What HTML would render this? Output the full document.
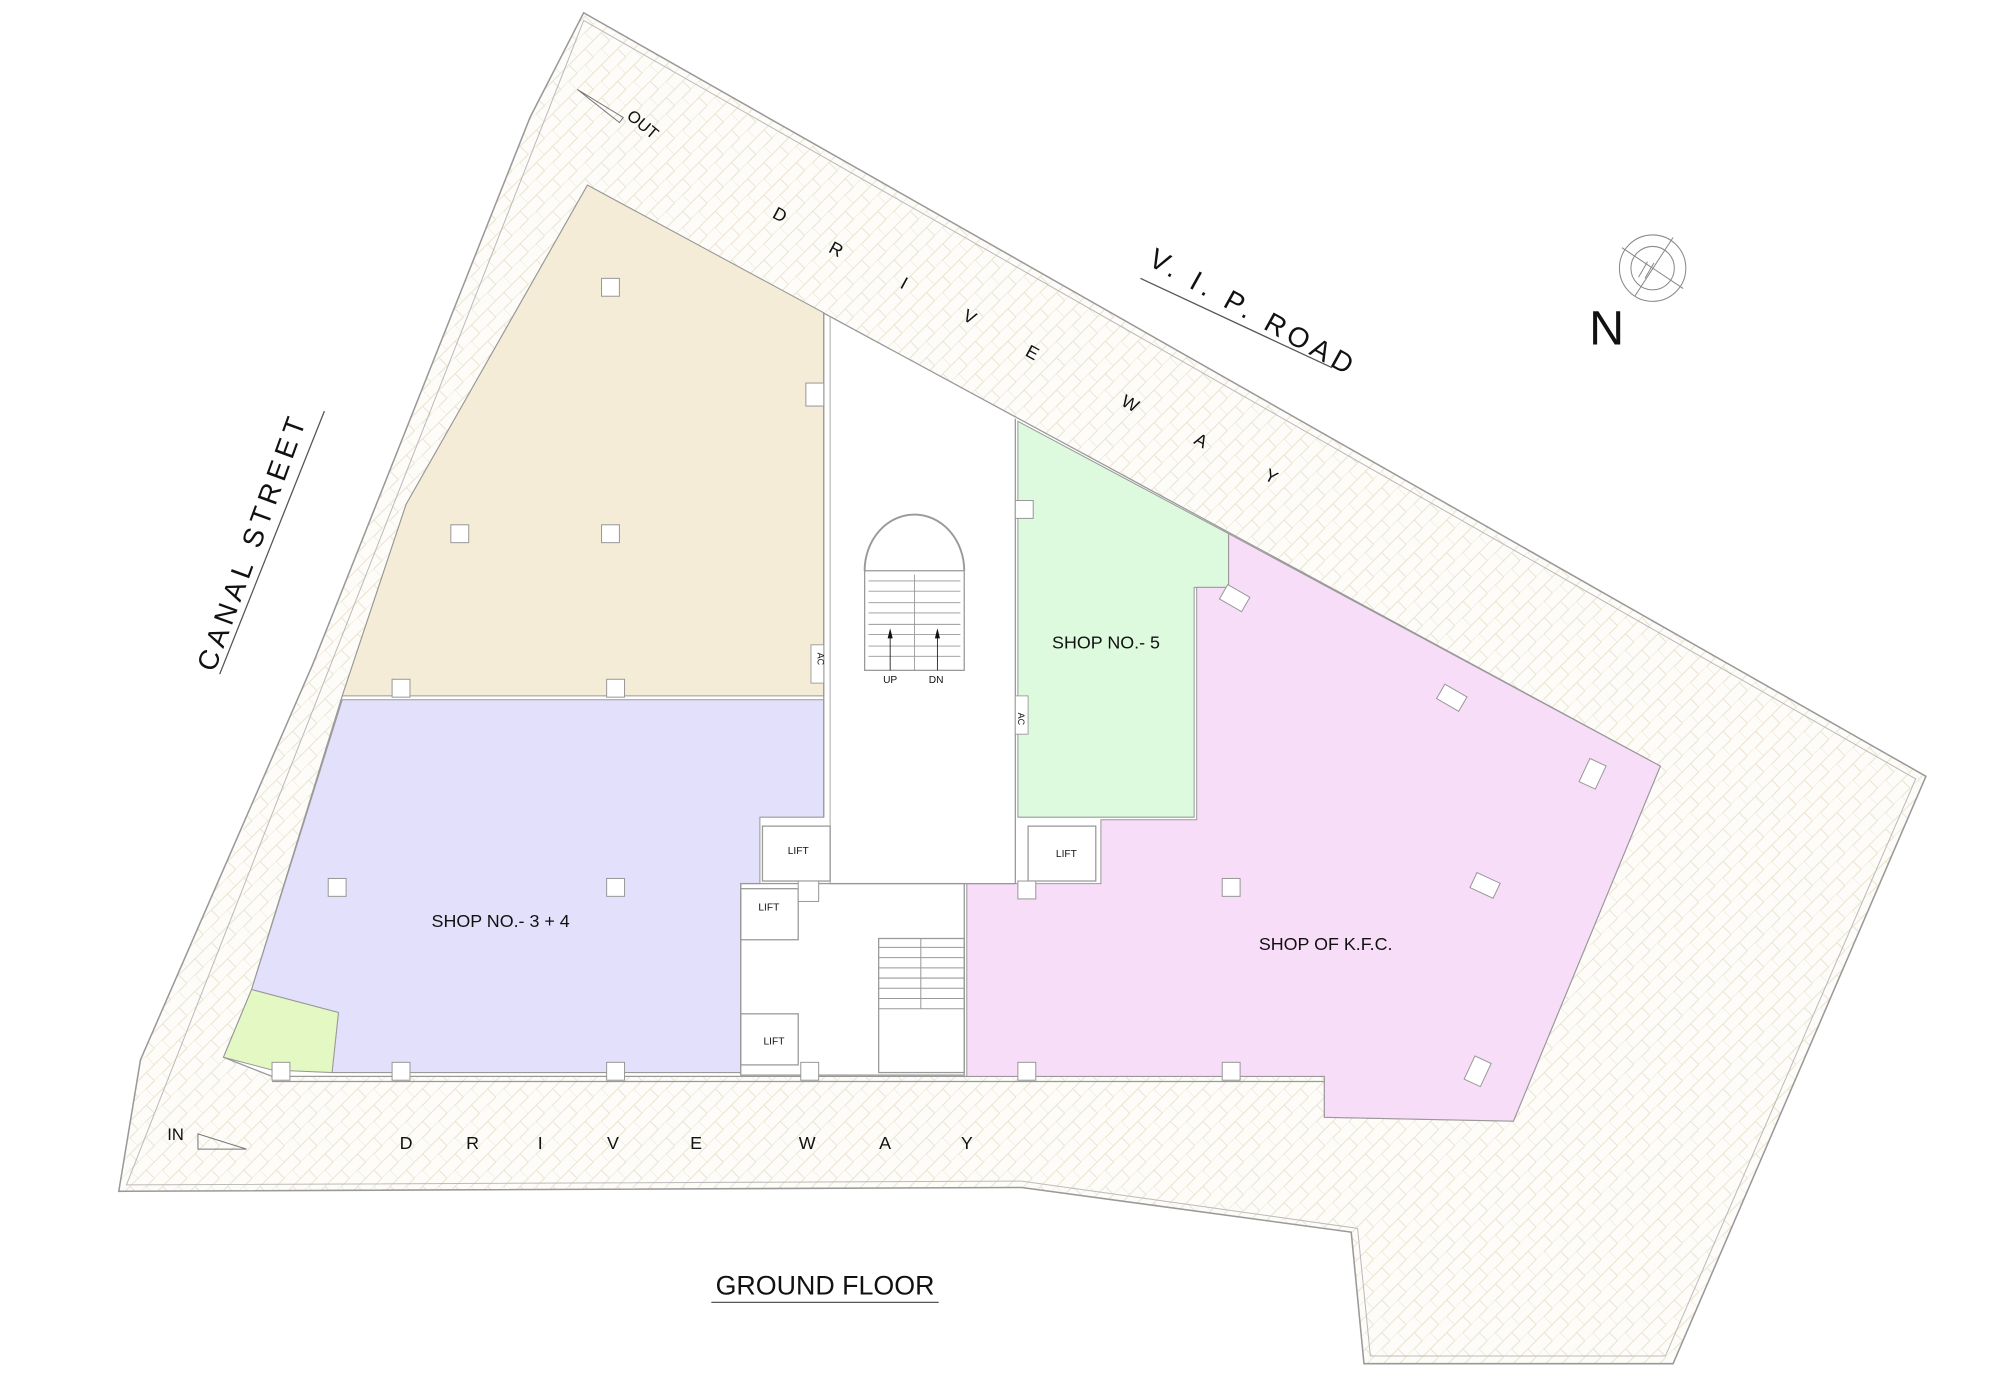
<!DOCTYPE html>
<html><head><meta charset="utf-8"><style>
html,body{margin:0;padding:0;background:#fff;width:2000px;height:1379px;overflow:hidden}
svg{display:block}
text{font-family:"Liberation Sans",sans-serif;fill:#111}
</style></head><body>
<svg width="2000" height="1379" viewBox="0 0 1566 1080" preserveAspectRatio="none" xmlns="http://www.w3.org/2000/svg">
<defs>
<pattern id="hb" width="18" height="18" patternUnits="userSpaceOnUse" patternTransform="rotate(45)">
<rect width="18" height="18" fill="#fdfcf9"/>
<path d="M0,0 H9 V9 H18 V18 M0,9 V18 M9,9 V18 M18,0 V9" stroke="#ebe4d0" stroke-width="0.8" fill="none"/>
</pattern>
</defs>
<rect width="1566" height="1080" fill="#fff"/>
<!-- site -->
<polygon points="457,10 1508,608 1310,1068 1068,1068 1058,965 800,930 93,933 110,830 245,520 415,92" fill="url(#hb)" stroke="#999" stroke-width="1.2"/>
<polygon points="457,16 1500,610 1304,1062 1073,1062 1063,962 800,925 99,928" fill="none" stroke="#bbb" stroke-width="0.8"/>
<!-- building base white -->
<polygon points="460,145 1300,600 1185,878 1037,875 1037,843 213,843 175,828 197,775 268,545 318,395" fill="#fff" stroke="#999" stroke-width="1"/>
<!-- tan -->
<polygon points="460,145 645,245 645,545 268,545 318,395" fill="#f5ecd8" stroke="#999" stroke-width="0.8"/>
<!-- purple -->
<polygon points="268,548 645,548 645,640 595,640 595,692 580,692 580,840 260,840 265,793 197,775" fill="#e3e0fb" stroke="#999" stroke-width="0.8"/>
<!-- small green -->
<polygon points="197,775 265,793 260,840 213,838 175,828" fill="#e4f8c4" stroke="#999" stroke-width="0.8"/>
<!-- shop 5 -->
<polygon points="797,330 962,418 962,460 935,460 935,640 797,640" fill="#ddfadf" stroke="#999" stroke-width="0.8"/>
<!-- KFC -->
<polygon points="757,692 862,692 862,642 937,642 937,460 962,460 962,418 1300,600 1185,878 1037,875 1037,843 757,843" fill="#f8ddf8" stroke="#999" stroke-width="0.8"/>
<!-- central walls -->
<line x1="645" y1="245" x2="645" y2="640" stroke="#999"/>
<line x1="650" y1="248" x2="650" y2="692" stroke="#bbb"/>
<line x1="795" y1="328" x2="795" y2="692" stroke="#999"/>
<line x1="650" y1="692" x2="795" y2="692" stroke="#999"/>
<line x1="213" y1="847" x2="1037" y2="847" stroke="#999"/>
<!-- lifts -->
<g fill="#fff" stroke="#999" stroke-width="1">
<rect x="597" y="647" width="53" height="43"/>
<rect x="805" y="647" width="53" height="43"/>
<rect x="580" y="696" width="45" height="40"/>
<rect x="580" y="794" width="45" height="40"/>
<rect x="580" y="692" width="175" height="150" fill="none"/>
<rect x="688" y="735" width="67" height="105" fill="none"/>
</g>
<g stroke="#999" stroke-width="0.8">
<line x1="688" y1="742" x2="755" y2="742"/><line x1="688" y1="750" x2="755" y2="750"/><line x1="688" y1="758" x2="755" y2="758"/><line x1="688" y1="766" x2="755" y2="766"/><line x1="688" y1="774" x2="755" y2="774"/><line x1="688" y1="782" x2="755" y2="782"/><line x1="688" y1="790" x2="755" y2="790"/><line x1="721" y1="735" x2="721" y2="790"/>
</g>
<g font-size="8" text-anchor="middle">
<text x="625" y="669">LIFT</text><text x="835" y="671">LIFT</text><text x="602" y="713">LIFT</text><text x="606" y="818">LIFT</text>
</g>
<!-- stair with arch -->
<path d="M677,447 A39,44 0 0 1 755,447" fill="none" stroke="#999" stroke-width="1.5"/>
<rect x="677" y="447" width="78" height="78" fill="#fff" stroke="#999"/>
<g stroke="#999" stroke-width="0.7">
<line x1="680" y1="455" x2="752" y2="455"/><line x1="680" y1="463" x2="752" y2="463"/><line x1="680" y1="472" x2="752" y2="472"/><line x1="680" y1="480" x2="752" y2="480"/><line x1="680" y1="489" x2="752" y2="489"/><line x1="680" y1="497" x2="752" y2="497"/><line x1="680" y1="506" x2="752" y2="506"/><line x1="680" y1="514" x2="752" y2="514"/><line x1="716" y1="450" x2="716" y2="525"/>
<line x1="697" y1="495" x2="697" y2="525" stroke="#222"/><line x1="734" y1="495" x2="734" y2="525" stroke="#222"/>
</g>
<polygon points="697,492 695,500 699,500" fill="#111"/><polygon points="734,492 732,500 736,500" fill="#111"/>
<text x="697" y="535" font-size="8" text-anchor="middle">UP</text><text x="733" y="535" font-size="8" text-anchor="middle">DN</text>
<!-- AC -->
<rect x="635" y="505" width="10" height="30" fill="#fff" stroke="#999" stroke-width="0.7"/>
<text x="640" y="516" font-size="7" transform="rotate(90 640 516)" text-anchor="middle">AC</text>
<rect x="795" y="545" width="10" height="30" fill="#fff" stroke="#999" stroke-width="0.7"/>
<text x="800" y="560" font-size="7" transform="rotate(90 797 560)" text-anchor="middle">AC</text>
<!-- columns -->
<g fill="#fff" stroke="#999" stroke-width="0.8">
<rect x="471" y="218" width="14" height="14"/><rect x="353" y="411" width="14" height="14"/><rect x="471" y="411" width="14" height="14"/>
<rect x="631" y="300" width="14" height="18"/><rect x="307" y="532" width="14" height="14"/><rect x="475" y="532" width="14" height="14"/>
<rect x="257" y="688" width="14" height="14"/><rect x="475" y="688" width="14" height="14"/>
<rect x="307" y="832" width="14" height="14"/><rect x="475" y="832" width="14" height="14"/><rect x="213" y="832" width="14" height="14"/>
<rect x="627" y="832" width="14" height="14"/><rect x="797" y="832" width="14" height="14"/><rect x="957" y="832" width="14" height="14"/>
<rect x="795" y="392" width="14" height="14"/><rect x="797" y="690" width="14" height="14"/><rect x="957" y="688" width="14" height="14"/>
<rect x="625" y="690" width="16" height="16"/>
<rect x="957" y="462" width="20" height="13" transform="rotate(30 967 468)"/>
<rect x="1127" y="540" width="20" height="13" transform="rotate(30 1137 546)"/>
<rect x="1240" y="596" width="14" height="20" transform="rotate(25 1247 606)"/>
<rect x="1153" y="687" width="20" height="13" transform="rotate(25 1163 693)"/>
<rect x="1150" y="829" width="14" height="20" transform="rotate(25 1157 839)"/>
</g>
<!-- labels -->
<g font-size="14" text-anchor="middle">
<text x="392" y="726">SHOP NO.- 3 + 4</text>
<text x="866" y="508">SHOP NO.- 5</text>
<text x="1038" y="744">SHOP OF K.F.C.</text>
</g>
<g font-size="14">
<text x="604" y="170" transform="rotate(28.5 604 170)">D</text>
<text x="648" y="197" transform="rotate(28.5 648 197)">R</text>
<text x="704" y="225" transform="rotate(28.5 704 225)">I</text>
<text x="753" y="250" transform="rotate(28.5 753 250)">V</text>
<text x="802" y="278" transform="rotate(28.5 802 278)">E</text>
<text x="877" y="317" transform="rotate(28.5 877 317)">W</text>
<text x="934" y="347" transform="rotate(28.5 934 347)">A</text>
<text x="989" y="375" transform="rotate(28.5 989 375)">Y</text>
</g>
<g font-size="14" text-anchor="middle">
<text x="318" y="900">D</text><text x="370" y="900">R</text><text x="423" y="900">I</text><text x="480" y="900">V</text><text x="545" y="900">E</text><text x="632" y="900">W</text><text x="693" y="900">A</text><text x="757" y="900">Y</text>
</g>
<text x="898" y="207" font-size="22" letter-spacing="4" transform="rotate(29 898 207)">V. I. P. ROAD</text>
<line x1="893" y1="218" x2="1043" y2="288" stroke="#555" stroke-width="1"/>
<text x="168" y="527" font-size="22" letter-spacing="4" transform="rotate(-70 168 527)">CANAL STREET</text>
<line x1="172" y1="528" x2="254" y2="322" stroke="#555" stroke-width="1"/>
<text x="1258" y="270" font-size="38" text-anchor="middle">N</text>
<g fill="none" stroke="#888" stroke-width="0.8">
<circle cx="1294" cy="210" r="26"/><circle cx="1294" cy="210" r="17"/>
<line x1="1270" y1="194" x2="1318" y2="226"/><line x1="1310" y1="186" x2="1280" y2="232"/>
<line x1="1290" y1="205" x2="1283" y2="217"/><line x1="1295" y1="206" x2="1288" y2="218"/>
</g>
<text x="646" y="1014" font-size="21" text-anchor="middle">GROUND FLOOR</text>
<line x1="557" y1="1020" x2="735" y2="1020" stroke="#555" stroke-width="1"/>
<text x="490" y="92" font-size="13" transform="rotate(40 490 92)">OUT</text>
<polygon points="452,70 488,92 485,96" fill="none" stroke="#777" stroke-width="0.8"/>
<text x="131" y="893" font-size="13">IN</text>
<polygon points="155,888 193,900 155,900" fill="none" stroke="#777" stroke-width="0.8"/>
</svg>
</body></html>
